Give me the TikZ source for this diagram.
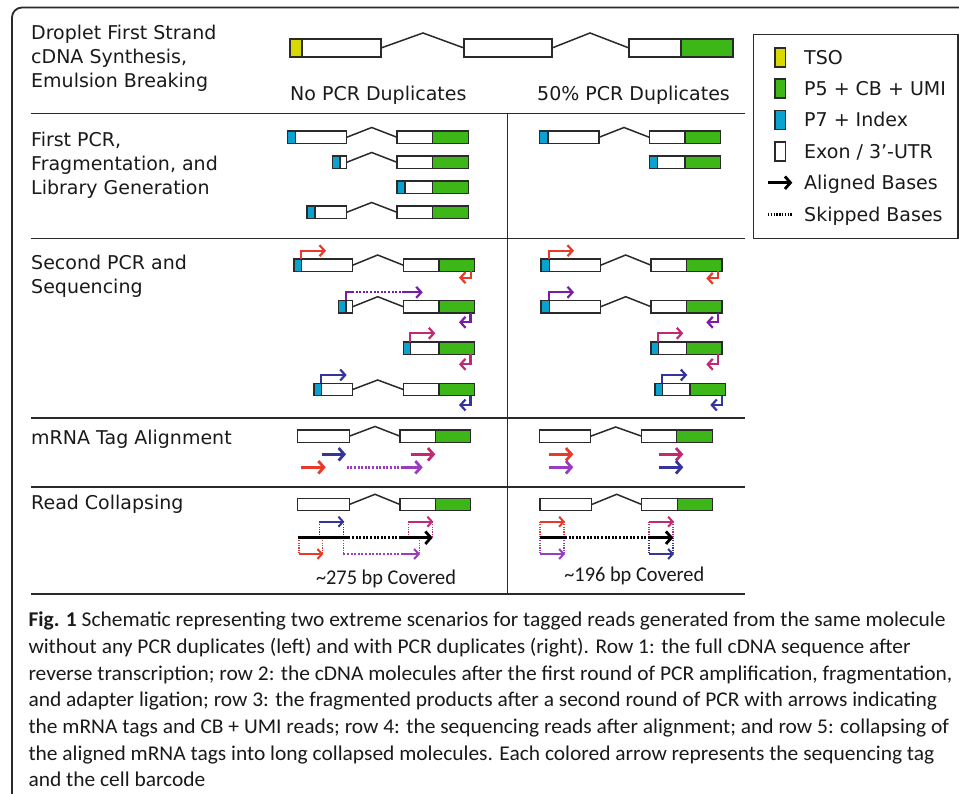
\documentclass[tikz,border=0pt]{standalone}
\usepackage{fontspec}
\setmainfont{DejaVu Sans}
\newfontfamily\capfont{Carlito}
\usetikzlibrary{arrows.meta}
\definecolor{tsoY}{HTML}{D9D900}
\definecolor{gnC}{HTML}{3DB618}
\definecolor{cyC}{HTML}{0AA3D1}
\definecolor{rdC}{HTML}{E63B2A}
\definecolor{puC}{HTML}{7A1CA6}
\definecolor{puL}{HTML}{9A3CC0}
\definecolor{mgC}{HTML}{C02A70}
\definecolor{blC}{HTML}{35349A}
\definecolor{lnC}{HTML}{2A2A2A}
\definecolor{txC}{HTML}{1A1A1A}
\newsavebox\fitbox
\newsavebox\capbox
\newcommand\fitw[2]{\sbox\fitbox{#2}\pgfmathsetmacro\fitsx{#1/\the\wd\fitbox}\scalebox{\fitsx}[1]{\usebox\fitbox}}
\newcommand\bx[5]{\draw[bxs,fill=#5] (#1,#3) rectangle (#2,#4);}
\tikzset{
  bxs/.style={draw=lnC,line width=1.5pt},
  intr/.style={draw=lnC,line width=1.5pt},
  rule/.style={draw=lnC,line width=1.4pt},
  lbl/.style={anchor=base west,inner sep=0pt,text=txC,font=\fontsize{19}{24}\selectfont},
  capl/.style={anchor=base west,inner sep=0pt,text=txC},
  ar3/.style={line width=2.2pt,-{Straight Barb[length=5pt,width=11pt]}},
  ar3n/.style={line width=2.2pt},
  ar4/.style={line width=2.8pt,-{Straight Barb[length=5.5pt,width=12.5pt]}},
  ar5/.style={line width=2pt,-{Straight Barb[length=4.5pt,width=10pt]}},
  dots/.style={dash pattern=on 2pt off 1.6pt},
  vdot/.style={line width=1.2pt,dash pattern=on 1.2pt off 1.2pt},
}
\begin{document}
\sbox\capbox{\capfont\fontsize{21}{24}\selectfont\textbf{Fig. 1} Schematic representing two extreme scenarios for tagged reads generated from the same molecule}%
\pgfmathsetmacro\capsx{917/\the\wd\capbox}%
\begin{tikzpicture}[x=1pt,y=-1pt]
\useasboundingbox (0,0) rectangle (959,794);
\fill[white] (0,0) rectangle (959,794);
% outer frame
\draw[rule,line width=1.8pt,rounded corners=10pt] (12,794) -- (12,7.5) -- (959,7.5);
% table rules
\foreach \yy in {113.3,238.3,418,487,594} \draw[rule] (31,\yy) -- (745,\yy);
\draw[rule] (507.7,113.3) -- (507.7,594);

% row labels
\node[lbl] (l1a) at (31,40) {Droplet First Strand};
\node[lbl] (l1b) at (31,64) {cDNA Synthesis,};
\node[lbl] (l1c) at (31,88) {Emulsion Breaking};
\node[lbl] (nopcr) at (290,101) {No PCR Duplicates};
\node[lbl] (fifty) at (537,101) {50\% PCR Duplicates};
\node[lbl] (l2a) at (31,146.5) {First PCR,};
\node[lbl] (l2b) at (31,170.5) {Fragmentation, and};
\node[lbl] (l2c) at (31,194.5) {Library Generation};
\node[lbl] (l3a) at (31,270) {Second PCR and};
\node[lbl] (l3b) at (31,294) {Sequencing};
\node[lbl] (l4) at (31,444.3) {mRNA Tag Alignment};
\node[lbl] (l5) at (31,509.3) {Read Collapsing};

% row 1
\bx{290}{302}{39}{57}{tsoY}
\bx{302}{381}{39}{57}{white}
\draw[intr] (381,48) -- (423,33) -- (464,48);
\bx{464}{552}{39}{57}{white}
\draw[intr] (552,48) -- (590,33) -- (629,48);
\bx{629}{681}{39}{57}{white}
\bx{681}{733}{39}{57}{gnC}

% row 2 left
\bx{287.3}{295.7}{131}{143.5}{cyC}
\bx{295.7}{346.7}{131}{143.5}{white}
\draw[intr] (346.7,137.3) -- (371.7,127.5) -- (397,137.3);
\bx{397}{432.7}{131}{143.5}{white}
\bx{432.7}{468.3}{131}{143.5}{gnC}
\bx{332.3}{340}{156}{168.5}{cyC}
\bx{340}{346.7}{156}{168.5}{white}
\draw[intr] (346.7,162.3) -- (371.7,152.5) -- (397,162.3);
\bx{397}{432.7}{156}{168.5}{white}
\bx{432.7}{468.3}{156}{168.5}{gnC}
\bx{397}{405}{181}{193.5}{cyC}
\bx{405}{432.7}{181}{193.5}{white}
\bx{432.7}{468.3}{181}{193.5}{gnC}
\bx{307}{315}{206}{218.5}{cyC}
\bx{315}{346.7}{206}{218.5}{white}
\draw[intr] (346.7,212.3) -- (371.7,202.5) -- (397,212.3);
\bx{397}{432.7}{206}{218.5}{white}
\bx{432.7}{468.3}{206}{218.5}{gnC}
% row 2 right
\bx{539.6}{548}{131}{143.5}{cyC}
\bx{548}{599}{131}{143.5}{white}
\draw[intr] (599,137.3) -- (624,127.5) -- (649.3,137.3);
\bx{649.3}{685}{131}{143.5}{white}
\bx{685}{720.6}{131}{143.5}{gnC}
\bx{649.3}{657.3}{156}{168.5}{cyC}
\bx{657.3}{685}{156}{168.5}{white}
\bx{685}{720.6}{156}{168.5}{gnC}

% row 3 left
\bx{294}{301.3}{259}{271.3}{cyC}
\bx{301.3}{352.7}{259}{271.3}{white}
\draw[intr] (352.7,265.2) -- (377.7,255) -- (403.3,265.2);
\bx{403.3}{439}{259}{271.3}{white}
\bx{439}{474.3}{259}{271.3}{gnC}
\bx{338.7}{346}{300.5}{313}{cyC}
\bx{346}{352.7}{300.5}{313}{white}
\draw[intr] (352.7,306.7) -- (377.7,296.7) -- (403.3,306.7);
\bx{403.3}{439}{300.5}{313}{white}
\bx{439}{474.3}{300.5}{313}{gnC}
\bx{403.3}{410.7}{342}{354.3}{cyC}
\bx{410.7}{439}{342}{354.3}{white}
\bx{439}{474.3}{342}{354.3}{gnC}
\bx{314}{321.7}{383.3}{395.7}{cyC}
\bx{321.7}{352.7}{383.3}{395.7}{white}
\draw[intr] (352.7,389.5) -- (377.7,380) -- (403.3,389.5);
\bx{403.3}{439}{383.3}{395.7}{white}
\bx{439}{474.3}{383.3}{395.7}{gnC}
% row 3 left arrows
\draw[ar3,rdC] (300.7,259) -- (300.7,250.7) -- (326,250.7);
\draw[ar3,rdC] (470.7,271.3) -- (470.7,277.7) -- (459,277.7);
\draw[ar3n,puC] (346,300.5) -- (346,292.3) -- (352,292.3);
\draw[ar3n,puC,dots] (352,292.3) -- (403,292.3);
\draw[ar3,puC] (403,292.3) -- (422.7,292.3);
\draw[ar3,puC] (470.5,313) -- (470.5,322.3) -- (459,322.3);
\draw[ar3,mgC] (410,342) -- (410,333.3) -- (435.3,333.3);
\draw[ar3,mgC] (470.5,354.3) -- (470.5,364.3) -- (459,364.3);
\draw[ar3,blC] (321.3,383.3) -- (321.3,375) -- (346.7,375);
\draw[ar3,blC] (470.5,395.7) -- (470.5,405) -- (459,405);

% row 3 right
\bx{541}{549.3}{259}{271.3}{cyC}
\bx{549.3}{600.7}{259}{271.3}{white}
\draw[intr] (600.7,265.2) -- (625.7,255) -- (651,265.2);
\bx{651}{686.7}{259}{271.3}{white}
\bx{686.7}{722}{259}{271.3}{gnC}
\bx{541}{549.3}{300.5}{313}{cyC}
\bx{549.3}{600.7}{300.5}{313}{white}
\draw[intr] (600.7,306.7) -- (625.7,296.7) -- (651,306.7);
\bx{651}{686.7}{300.5}{313}{white}
\bx{686.7}{722}{300.5}{313}{gnC}
\bx{651}{658.7}{342}{354.3}{cyC}
\bx{658.7}{686.7}{342}{354.3}{white}
\bx{686.7}{722}{342}{354.3}{gnC}
\bx{655}{662.7}{383.3}{395.7}{cyC}
\bx{662.7}{690}{383.3}{395.7}{white}
\bx{690}{725.7}{383.3}{395.7}{gnC}
% row 3 right arrows
\draw[ar3,rdC] (548.7,259) -- (548.7,250.7) -- (574,250.7);
\draw[ar3,rdC] (718.3,271.3) -- (718.3,278.3) -- (706.3,278.3);
\draw[ar3,puC] (548.7,300.5) -- (548.7,292.3) -- (574,292.3);
\draw[ar3,puC] (718.3,313) -- (718.3,322.3) -- (706.3,322.3);
\draw[ar3,mgC] (658.3,342) -- (658.3,333.3) -- (683.3,333.3);
\draw[ar3,mgC] (718.3,354.3) -- (718.3,364.3) -- (706.3,364.3);
\draw[ar3,blC] (661.7,383.3) -- (661.7,375) -- (687.3,375);
\draw[ar3,blC] (722.3,395.7) -- (722.3,405) -- (710.3,405);

% row 4
\bx{297.7}{349.3}{430}{442.5}{white}
\draw[intr] (349.3,436.2) -- (375,426.5) -- (400,436.2);
\bx{400}{435.7}{430}{442.5}{white}
\bx{435.7}{470.7}{430}{442.5}{gnC}
\draw[ar4,blC] (321.7,454.3) -- (346,454.3);
\draw[ar4,mgC] (411,454.3) -- (435.3,454.3);
\draw[ar4,rdC] (301,467.3) -- (325.7,467.3);
\draw[line width=2.8pt,puL,dots] (346.7,467.3) -- (403,467.3);
\draw[ar4,puL] (402,467.3) -- (422.7,467.3);
\bx{539.3}{590.7}{430}{442.5}{white}
\draw[intr] (590.7,436.2) -- (615.7,427) -- (641.7,436.2);
\bx{641.7}{676.7}{430}{442.5}{white}
\bx{676.7}{712.3}{430}{442.5}{gnC}
\draw[ar4,rdC] (549,454.3) -- (573.3,454.3);
\draw[ar4,puL] (549,467.3) -- (573.3,467.3);
\draw[ar4,mgC] (658.7,454.3) -- (683.3,454.3);
\draw[ar4,blC] (658.7,467.3) -- (683.3,467.3);

% row 5 left
\bx{297.7}{349.3}{498.3}{510.7}{white}
\draw[intr] (349.3,504.5) -- (375,494.3) -- (400,504.5);
\bx{400}{435.7}{498.3}{510.7}{white}
\bx{435.7}{470.7}{498.3}{510.7}{gnC}
\draw[vdot,blC] (319.3,521.7) -- (319.3,537.7) (343.3,521.7) -- (343.3,537.7);
\draw[vdot,rdC] (299,537.7) -- (299,554) (322.3,537.7) -- (322.3,554);
\draw[vdot,puL] (343.3,537.7) -- (343.3,554) (419.3,537.7) -- (419.3,554);
\draw[vdot,mgC] (408.3,521.7) -- (408.3,537.7) (432.3,521.7) -- (432.3,537.7);
\draw[line width=2.8pt,black] (298.3,537.7) -- (348.3,537.7);
\draw[line width=2.8pt,black,dots] (348.3,537.7) -- (400,537.7);
\draw[ar4,black] (399,537.7) -- (432.7,537.7);
\draw[ar5,blC] (319.3,521.7) -- (344.3,521.7);
\draw[ar5,rdC] (299,554) -- (323.3,554);
\draw[line width=2pt,puL,dots] (343.3,554) -- (401.7,554);
\draw[ar5,puL] (401,554) -- (420,554);
\draw[ar5,mgC] (408.3,521.7) -- (433.3,521.7);
\node[anchor=base,inner sep=0pt,text=txC] (cov1) at (386,584) {\fitw{140}{\capfont\fontsize{21}{24}\selectfont\textasciitilde 275 bp Covered}};
% row 5 right
\bx{540}{591.7}{498.3}{510.7}{white}
\draw[intr] (591.7,504.5) -- (616.7,494.3) -- (641.7,504.5);
\bx{641.7}{677.3}{498.3}{510.7}{white}
\bx{677.3}{712.7}{498.3}{510.7}{gnC}
\draw[vdot,rdC] (540,521.7) -- (540,537.7) (564,521.7) -- (564,537.7);
\draw[vdot,puL] (540,537.7) -- (540,554) (564,537.7) -- (564,554);
\draw[vdot,mgC] (649,521.7) -- (649,537.7) (673,521.7) -- (673,537.7);
\draw[vdot,blC] (649,537.7) -- (649,554) (673,537.7) -- (673,554);
\draw[line width=2.8pt,black] (540,537.7) -- (565,537.7);
\draw[line width=2.8pt,black,dots] (565,537.7) -- (649,537.7);
\draw[ar4,black] (648,537.7) -- (673.3,537.7);
\draw[ar5,rdC] (540,521.7) -- (565,521.7);
\draw[ar5,puL] (540,554) -- (565,554);
\draw[ar5,mgC] (649,521.7) -- (674,521.7);
\draw[ar5,blC] (649,554) -- (674,554);
\node[anchor=base,inner sep=0pt,text=txC] (cov2) at (634.3,581) {\fitw{140}{\capfont\fontsize{21}{24}\selectfont\textasciitilde 196 bp Covered}};

% legend
\draw[rule] (753.3,34.3) rectangle (958,238.3);
\draw[bxs,fill=tsoY] (775,48.2) rectangle (785.7,67.2);
\draw[bxs,fill=gnC] (775,78.8) rectangle (785.7,97.8);
\draw[bxs,fill=cyC] (775,110.5) rectangle (785.7,129.5);
\draw[bxs,fill=white] (775,142.2) rectangle (785.7,161.2);
\draw[ar4,black] (768.3,182.7) -- (792.3,182.7);
\draw[line width=2.6pt,black,dash pattern=on 1.4pt off 1.4pt] (768,214.3) -- (793,214.3);
\node[lbl] (lg1) at (804,64.7) {TSO};
\node[lbl] (lg2) at (804,95.3) {P5 + CB + UMI};
\node[lbl] (lg3) at (804,127) {P7 + Index};
\node[lbl] (lg4) at (804,158.7) {Exon / 3’-UTR};
\node[lbl] (lg5) at (804,189.7) {Aligned Bases};
\node[lbl] (lg6) at (804,221.3) {Skipped Bases};

% caption
\tikzset{capt/.style={capl,font=\capfont\fontsize{21}{24}\selectfont}}
\node[capt] (c1) at (28.3,626.7) {\scalebox{\capsx}[1]{\textbf{Fig. 1} Schematic representing two extreme scenarios for tagged reads generated from the same molecule}};
\node[capt] (c2) at (28.3,653.4) {\scalebox{\capsx}[1]{without any PCR duplicates (left) and with PCR duplicates (right). Row 1: the full cDNA sequence after}};
\node[capt] (c3) at (28.3,680) {\scalebox{\capsx}[1]{reverse transcription; row 2: the cDNA molecules after the first round of PCR amplification, fragmentation,}};
\node[capt] (c4) at (28.3,706.7) {\scalebox{\capsx}[1]{and adapter ligation; row 3: the fragmented products after a second round of PCR with arrows indicating}};
\node[capt] (c5) at (28.3,733.4) {\scalebox{\capsx}[1]{the mRNA tags and CB + UMI reads; row 4: the sequencing reads after alignment; and row 5: collapsing of}};
\node[capt] (c6) at (28.3,760) {\scalebox{\capsx}[1]{the aligned mRNA tags into long collapsed molecules. Each colored arrow represents the sequencing tag}};
\node[capt] (c7) at (28.3,786.7) {\scalebox{\capsx}[1]{and the cell barcode}};
\end{tikzpicture}
\end{document}
